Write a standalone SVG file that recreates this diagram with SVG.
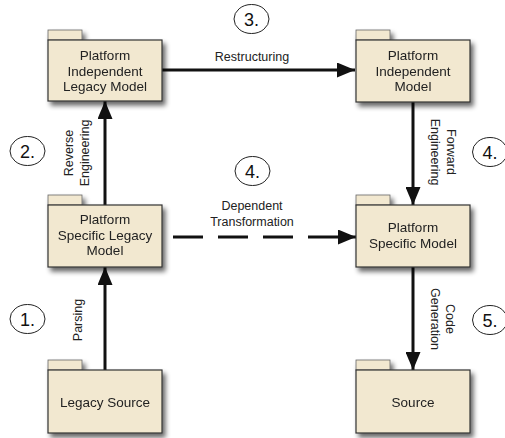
<svg xmlns="http://www.w3.org/2000/svg" width="505" height="438" viewBox="0 0 505 438">
<defs>
<filter id="sh" x="-20%" y="-20%" width="150%" height="160%">
<feGaussianBlur in="SourceAlpha" stdDeviation="2.5"/>
<feOffset dx="3" dy="4" result="b"/>
<feComponentTransfer><feFuncA type="linear" slope="0.6"/></feComponentTransfer>
<feMerge><feMergeNode/><feMergeNode in="SourceGraphic"/></feMerge>
</filter>
<marker id="ah" markerUnits="userSpaceOnUse" markerWidth="19" markerHeight="15" refX="18" refY="7.5" orient="auto">
<path d="M0,0 L18,7.5 L0,15 Z" fill="#111"/>
</marker>
</defs>
<style>
.box{fill:#F2E8D0;stroke:#333;stroke-width:1.2}
.tab{fill:#F2E8D0;stroke:#666;stroke-width:0.8}
.nt{font-family:"Liberation Sans",Arial,sans-serif;font-size:13.5px;fill:#222;text-anchor:middle}
.lb{font-family:"Liberation Sans",Arial,sans-serif;font-size:12.5px;fill:#222;text-anchor:middle}
.num{font-family:"Liberation Sans",Arial,sans-serif;font-size:18px;fill:#111;text-anchor:middle}
.cir{fill:none;stroke:#222;stroke-width:1}
.ar{stroke:#111;stroke-width:3;fill:none}
</style>
<rect width="505" height="438" fill="#fff"/>

<g id="connectors">
<line class="ar" x1="162" y1="70" x2="355" y2="70" marker-end="url(#ah)"/>
<line class="ar" x1="105" y1="205" x2="105" y2="101" marker-end="url(#ah)"/>
<line class="ar" x1="105" y1="370" x2="105" y2="267" marker-end="url(#ah)"/>
<line class="ar" x1="413" y1="102" x2="413" y2="205" marker-end="url(#ah)"/>
<line class="ar" x1="413" y1="267" x2="413" y2="370" marker-end="url(#ah)"/>
<line class="ar" x1="173" y1="237" x2="338" y2="237" stroke-dasharray="30 15"/>
<line class="ar" x1="338" y1="237" x2="356" y2="237" marker-end="url(#ah)"/>
<text class="lb" x="252" y="61">Restructuring</text>
<text class="lb" x="252" y="210">Dependent</text>
<text class="lb" x="252" y="226">Transformation</text>
<text class="lb" transform="translate(73,153) rotate(-90)">Reverse</text>
<text class="lb" transform="translate(89,153) rotate(-90)">Engineering</text>
<text class="lb" transform="translate(82,320) rotate(-90)">Parsing</text>
<text class="lb" transform="translate(447,152) rotate(90)">Forward</text>
<text class="lb" transform="translate(431,152) rotate(90)">Engineering</text>
<text class="lb" transform="translate(446,319) rotate(90)">Code</text>
<text class="lb" transform="translate(431,319) rotate(90)">Generation</text>
</g>

<g id="steps">
<ellipse class="cir" cx="27.5" cy="319" rx="17.5" ry="14.5"/><text class="num" x="27.5" y="325.5">1.</text>
<ellipse class="cir" cx="27.5" cy="151" rx="17.5" ry="14.5"/><text class="num" x="27.5" y="157.5">2.</text>
<ellipse class="cir" cx="251.5" cy="19" rx="17.5" ry="14.5"/><text class="num" x="251.5" y="25.5">3.</text>
<ellipse class="cir" cx="252.5" cy="171" rx="17.5" ry="14.5"/><text class="num" x="252.5" y="177.5">4.</text>
<ellipse class="cir" cx="490" cy="152" rx="17.5" ry="14.5"/><text class="num" x="490" y="158.5">4.</text>
<ellipse class="cir" cx="490" cy="320" rx="17.5" ry="14.5"/><text class="num" x="490" y="326.5">5.</text>
</g>

<g id="pil" filter="url(#sh)">
<rect class="tab" x="48" y="30" width="34" height="10"/>
<rect class="box" x="48" y="40" width="114" height="61"/>
<text class="nt" x="105" y="60">Platform</text>
<text class="nt" x="105" y="75.5">Independent</text>
<text class="nt" x="105" y="91">Legacy Model</text>
</g>

<g id="pim" filter="url(#sh)">
<rect class="tab" x="356" y="30" width="34" height="10"/>
<rect class="box" x="356" y="40" width="114" height="62"/>
<text class="nt" x="413" y="60">Platform</text>
<text class="nt" x="413" y="75.5">Independent</text>
<text class="nt" x="413" y="91">Model</text>
</g>

<g id="psl" filter="url(#sh)">
<rect class="tab" x="48" y="195" width="34" height="10"/>
<rect class="box" x="48" y="205" width="114" height="62"/>
<text class="nt" x="105" y="224">Platform</text>
<text class="nt" x="105" y="239.5">Specific Legacy</text>
<text class="nt" x="105" y="255">Model</text>
</g>

<g id="psm" filter="url(#sh)">
<rect class="tab" x="356" y="195" width="34" height="10"/>
<rect class="box" x="356" y="205" width="114" height="62"/>
<text class="nt" x="413" y="232">Platform</text>
<text class="nt" x="413" y="248">Specific Model</text>
</g>

<g id="legacysource" filter="url(#sh)">
<rect class="tab" x="48" y="360" width="34" height="10"/>
<rect class="box" x="48" y="370" width="114" height="63"/>
<text class="nt" x="105" y="407">Legacy Source</text>
</g>

<g id="source" filter="url(#sh)">
<rect class="tab" x="356" y="360" width="34" height="10"/>
<rect class="box" x="356" y="370" width="114" height="63"/>
<text class="nt" x="413" y="407">Source</text>
</g>
</svg>
